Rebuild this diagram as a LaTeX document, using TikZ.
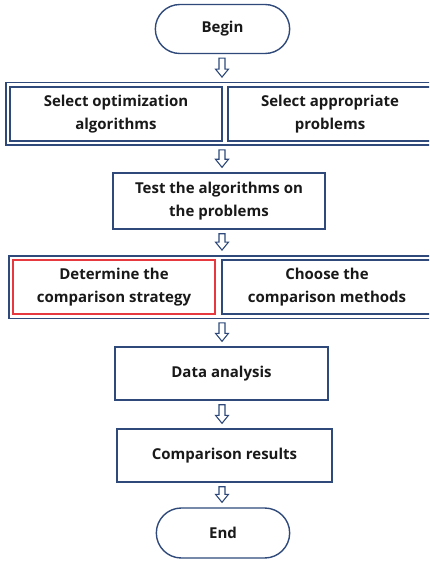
\documentclass[tikz,border=0pt]{standalone}
\usepackage{fontspec}
\setmainfont{Open Sans}
\usetikzlibrary{shapes.misc,fit,calc}

\definecolor{navy}{HTML}{2F4A7A}
\definecolor{alert}{HTML}{E5383F}

\tikzset{
  txt/.style={font=\fontsize{15}{23}\selectfont\bfseries, text=black!90, align=center},
  terminal/.style={draw=navy, line width=1.4pt, rounded rectangle, txt},
  stepbox/.style={draw=navy, line width=1.4pt, rectangle, txt},
  redbox/.style={stepbox, draw=alert},
  frame/.style={draw=navy, line width=1.4pt, rectangle, inner sep=3.5pt},
  hollow/.style={draw=navy, line width=1.1pt, fill=white, line join=miter}
}

% hollow block arrow from one node down to the next
\newcommand{\flowarrow}[2]{
  \draw[hollow] let \p1=(axis |- #1.south), \p2=(axis |- #2.north) in
    (\x1-3pt,\y1-4pt) -- (\x1-3pt,\y2+13pt) -- (\x1-6.5pt,\y2+13pt) --
    (\x1,\y2+5pt) -- (\x1+6.5pt,\y2+13pt) -- (\x1+3pt,\y2+13pt) --
    (\x1+3pt,\y1-4pt) -- cycle;
}

\begin{document}
\begin{tikzpicture}[x=1pt,y=-1pt]
  \useasboundingbox (0,0) rectangle (429,561);
  \clip (0,0) rectangle (429,561);
  \fill[white] (0,0) rectangle (429,561);
  \coordinate (axis) at (222,0);

  % Nodes
  \node[terminal, minimum width=141pt, minimum height=49pt] (begin) at (222.5,29) {Begin};

  \node[stepbox, minimum width=212pt, minimum height=54pt] (selalg) at (116,114) {Select optimization\\algorithms};
  \node[stepbox, minimum width=204pt, minimum height=54pt] (selprob) at (330,114) {Select appropriate\\problems};
  \node[frame, fit=(selalg)(selprob)] (pick) {};

  \node[stepbox, minimum width=212pt, minimum height=56pt] (test) at (219,201) {Test the algorithms on\\the problems};

  \node[redbox, minimum width=202pt, minimum height=54pt] (strategy) at (114,287) {Determine the\\comparison strategy};
  \node[stepbox, minimum width=210pt, minimum height=54pt] (methods) at (327,287) {Choose the\\comparison methods};
  \node[frame, fit=(strategy)(methods)] (compare) {};

  \node[stepbox, minimum width=213pt, minimum height=53pt] (data) at (221.5,373.5) {Data analysis};
  \node[stepbox, minimum width=215pt, minimum height=53pt] (results) at (224.5,455.5) {Comparison results};
  \node[terminal, minimum width=140pt, minimum height=50pt] (end) at (223,533) {End};

  % Connection
  \flowarrow{begin}{pick}
  \flowarrow{pick}{test}
  \flowarrow{test}{compare}
  \flowarrow{compare}{data}
  \flowarrow{data}{results}
  \flowarrow{results}{end}
\end{tikzpicture}
\end{document}
